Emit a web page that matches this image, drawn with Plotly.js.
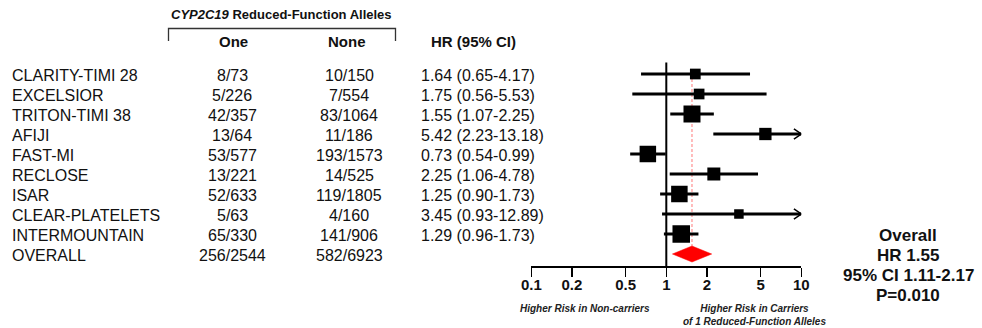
<!DOCTYPE html>
<html>
<head>
<meta charset="utf-8">
<script src="https://cdn.plot.ly/plotly-3.0.1.min.js"></script>
<style>html,body{margin:0;padding:0;background:#fff;}</style>
</head>
<body>
<div id="chart" style="width:982px;height:328px;"></div>
<script>
// ---------- data ----------
const studies = ["CLARITY-TIMI 28","EXCELSIOR","TRITON-TIMI 38","AFIJI","FAST-MI","RECLOSE","ISAR","CLEAR-PLATELETS","INTERMOUNTAIN"];
const oneAllele = ["8/73","5/226","42/357","13/64","53/577","13/221","52/633","5/63","65/330"];
const noneAllele = ["10/150","7/554","83/1064","11/186","193/1573","14/525","119/1805","4/160","141/906"];
const hr = [1.64,1.75,1.55,5.42,0.73,2.25,1.25,3.45,1.29];
const ciLow = [0.65,0.56,1.07,2.23,0.54,1.06,0.90,0.93,0.96];
const ciHigh = [4.17,5.53,2.25,13.18,0.99,4.78,1.73,12.89,1.73];
const studyWeight = [10.7,10.7,17,12.3,16.5,13,16.5,9.5,17.5];
const overallLabel = "OVERALL";
const overallOne = "256/2544";
const overallNone = "582/6923";
const overallHR = 1.55, overallLow = 1.11, overallHigh = 2.17;
const overallP = "0.010";
const tickVals = [0.1,0.2,0.5,1,2,5,10];
const tickText = ["0.1","0.2","0.5","1","2","5","10"];

// ---------- layout helpers ----------
const W = 982, H = 328;
const FONT = "Liberation Sans, Arial, Helvetica, sans-serif";
const xMin = 0.1, xMax = 10;
const TOP = 62, BOTTOM = 266;          // plot area pixel bounds
const px = v => v / W;                 // pixel -> paper x
const py = v => (BOTTOM - v) / (BOTTOM - TOP); // pixel -> paper y
const row = v => (v - 74) / 20;        // pixel -> row units (y axis)
const n = studies.length;
const overallRow = n;

const traces = [];

// reference line at HR = 1
traces.push({x:[1,1], y:[row(62.5), row(266)], mode:"lines", line:{color:"#000", width:2}, hoverinfo:"skip", showlegend:false});

// overall dashed line
traces.push({x:[overallHR, overallHR], y:[0, overallRow - 0.4], mode:"lines",
  line:{color:"#ff7a7a", width:1, dash:"3px,2px"}, hoverinfo:"skip", showlegend:false});

// CI lines
const cx = [], cy = [];
for (let i = 0; i < n; i++) {
  cx.push(Math.max(ciLow[i], xMin), Math.min(ciHigh[i], xMax), null);
  cy.push(i, i, null);
}
traces.push({x:cx, y:cy, mode:"lines", line:{color:"#000", width:3}, hoverinfo:"skip", showlegend:false});

// arrow heads for truncated CIs
const ax = [], ay = [];
const back = xMax * Math.pow(10, -0.055);
for (let i = 0; i < n; i++) {
  if (ciHigh[i] > xMax) {
    ax.push(back, xMax, back, null);
    ay.push(i - 0.26, i, i + 0.26, null);
  }
}
traces.push({x:ax, y:ay, mode:"lines", line:{color:"#000", width:1.5}, hoverinfo:"skip", showlegend:false});

// squares
traces.push({x:hr, y:studies.map((s,i)=>i), mode:"markers",
  marker:{symbol:"square", color:"#000", size:studyWeight, opacity:1, line:{width:0}},
  hoverinfo:"skip", showlegend:false, cliponaxis:false});

// overall diamond
traces.push({x:[overallLow, overallHR, overallHigh, overallHR, overallLow],
  y:[overallRow, overallRow - 0.4, overallRow, overallRow + 0.4, overallRow],
  mode:"lines", fill:"toself", fillcolor:"#ff0000", line:{color:"#ff0000", width:0.5},
  hoverinfo:"skip", showlegend:false});

// ---------- annotations ----------
const ann = [];
const bodyFont = {family:FONT, size:16, color:"#111"};
const addText = (text, xpx, ypx, anchor, font) => ann.push({
  text:text, x:px(xpx), xref:"paper", y:py(ypx), yref:"paper", xanchor:anchor, yanchor:"middle",
  showarrow:false, font:font || bodyFont
});

const labels = studies.concat([overallLabel]);
const ones = oneAllele.concat([overallOne]);
const nones = noneAllele.concat([overallNone]);
for (let i = 0; i <= n; i++) {
  const y = 75.5 + 20 * i;
  addText(labels[i], 10, y, "left");
  addText(ones[i], 232, y, "center");
  addText(nones[i], 349, y, "center");
  if (i < n) {
    addText(hr[i].toFixed(2) + " (" + ciLow[i].toFixed(2) + "-" + ciHigh[i].toFixed(2) + ")", 419, y, "left");
  }
}

const headFont = {family:FONT, size:15, color:"#111", weight:"bold"};
addText("One", 233, 42, "center", headFont);
addText("None", 347, 42, "center", headFont);
addText("HR (95% CI)", 429, 42, "left", headFont);
addText("<i>CYP2C19</i> Reduced-Function Alleles", 281, 15, "center", {family:FONT, size:13, color:"#111", weight:"bold"});

// overall summary box
const sumFont = {family:FONT, size:17, color:"#111", weight:"bold"};
addText("Overall", 908, 235, "center", sumFont);
addText("HR " + overallHR.toFixed(2), 908, 255, "center", sumFont);
addText("95% CI " + overallLow.toFixed(2) + "-" + overallHigh.toFixed(2), 908, 275, "center", sumFont);
addText("P=" + overallP, 908, 295, "center", sumFont);

// axis captions
const capFont = {family:FONT, size:10, color:"#222", weight:"bold", style:"italic"};
addText("Higher Risk in Non-carriers", 585, 308, "center", capFont);
ann.push({text:"Higher Risk in Carriers<br>of 1 Reduced-Function Alleles", x:px(754), xref:"paper",
  y:py(315), yref:"paper", xanchor:"center", yanchor:"middle", align:"center", showarrow:false, font:capFont});

// bracket above columns
const shapes = [{
  type:"path", xref:"paper", yref:"paper",
  path:"M" + px(168.5) + "," + py(41) + " L" + px(168.5) + "," + py(28.5) + " L" + px(395.5) + "," + py(28.5) + " L" + px(395.5) + "," + py(41),
  line:{color:"#333", width:1.3}
}];

const layout = {
  width:W, height:H,
  margin:{l:0, r:0, t:TOP, b:H - BOTTOM, pad:0},
  paper_bgcolor:"#fff", plot_bgcolor:"rgba(0,0,0,0)",
  showlegend:false,
  xaxis:{
    type:"log", range:[Math.log10(xMin), Math.log10(xMax)],
    domain:[px(531.3), px(801.3)],
    tickvals:tickVals, ticktext:tickText,
    ticks:"outside", ticklen:9, tickwidth:1.5, tickcolor:"#000",
    showline:true, linecolor:"#000", linewidth:1.5,
    showgrid:false, zeroline:false, fixedrange:true,
    ticklabelstandoff:-5,
    tickfont:{family:FONT, size:15, color:"#111", weight:"bold"}
  },
  yaxis:{
    range:[row(BOTTOM), row(TOP)], visible:false, showgrid:false, zeroline:false, fixedrange:true
  },
  annotations:ann,
  shapes:shapes
};

Plotly.newPlot("chart", traces, layout, {displayModeBar:false, staticPlot:true});
</script>
</body>
</html>
